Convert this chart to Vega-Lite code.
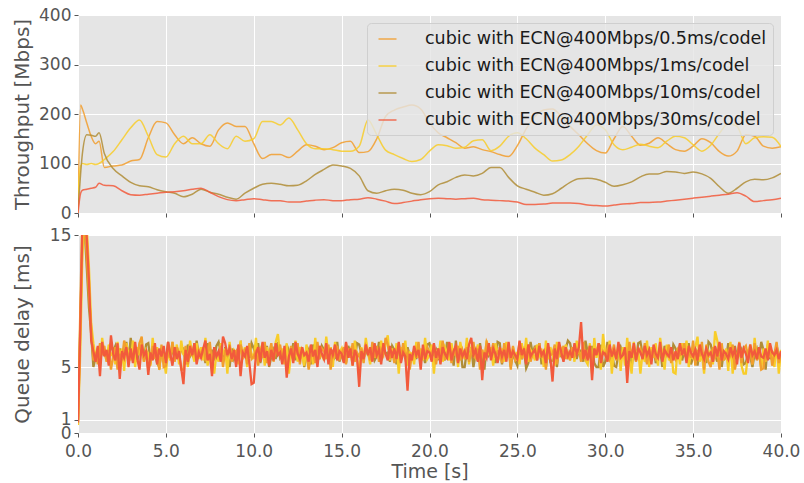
{
"$schema": "https://vega.github.io/schema/vega-lite/v6.json",
"background": "white",
"padding": {"left": 12, "top": 6, "right": 4, "bottom": 1},
"bounds": "flush",
"spacing": 22,
"datasets": {
"thr": [
{"t":0,"a":0,"b":40,"c":5,"d":0},
{"t":0.15,"a":218,"b":95,"c":80,"d":40},
{"t":0.25,"a":210,"b":100,"c":120,"d":46},
{"t":0.5,"a":182,"b":98,"c":158,"d":48},
{"t":0.75,"a":155,"b":100,"c":157,"d":50},
{"t":1,"a":140,"b":98,"c":155,"d":52},
{"t":1.2,"a":145,"b":100,"c":162,"d":60},
{"t":1.5,"a":92,"b":108,"c":120,"d":56},
{"t":2,"a":95,"b":124,"c":90,"d":55},
{"t":2.5,"a":97,"b":148,"c":75,"d":45},
{"t":3,"a":105,"b":172,"c":62,"d":37},
{"t":3.5,"a":108,"b":188,"c":55,"d":36},
{"t":4,"a":152,"b":155,"c":53,"d":38},
{"t":4.5,"a":185,"b":118,"c":47,"d":40},
{"t":5,"a":182,"b":113,"c":43,"d":42},
{"t":5.5,"a":158,"b":140,"c":40,"d":43},
{"t":6,"a":140,"b":155,"c":33,"d":45},
{"t":6.5,"a":152,"b":140,"c":38,"d":48},
{"t":7,"a":140,"b":140,"c":48,"d":50},
{"t":7.5,"a":135,"b":158,"c":42,"d":42},
{"t":8,"a":168,"b":140,"c":38,"d":33},
{"t":8.5,"a":182,"b":130,"c":32,"d":27},
{"t":9,"a":175,"b":155,"c":28,"d":25},
{"t":9.5,"a":175,"b":145,"c":40,"d":27},
{"t":10,"a":140,"b":150,"c":50,"d":29},
{"t":10.5,"a":110,"b":185,"c":58,"d":27},
{"t":11,"a":118,"b":185,"c":60,"d":25},
{"t":11.5,"a":118,"b":178,"c":58,"d":25},
{"t":12,"a":112,"b":192,"c":55,"d":22},
{"t":12.5,"a":125,"b":168,"c":56,"d":22},
{"t":13,"a":138,"b":140,"c":65,"d":24},
{"t":13.5,"a":135,"b":130,"c":78,"d":26},
{"t":14,"a":128,"b":130,"c":88,"d":27},
{"t":14.5,"a":132,"b":128,"c":97,"d":25},
{"t":15,"a":142,"b":125,"c":95,"d":25},
{"t":15.5,"a":145,"b":125,"c":90,"d":27},
{"t":16,"a":122,"b":135,"c":75,"d":28},
{"t":16.5,"a":124,"b":188,"c":45,"d":31},
{"t":17,"a":150,"b":158,"c":40,"d":28},
{"t":17.5,"a":195,"b":127,"c":45,"d":24},
{"t":18,"a":208,"b":118,"c":48,"d":19},
{"t":18.5,"a":214,"b":110,"c":46,"d":21},
{"t":19,"a":218,"b":104,"c":40,"d":24},
{"t":19.5,"a":210,"b":108,"c":37,"d":27},
{"t":20,"a":182,"b":125,"c":43,"d":29},
{"t":20.5,"a":162,"b":138,"c":57,"d":30},
{"t":21,"a":152,"b":136,"c":63,"d":29},
{"t":21.5,"a":142,"b":131,"c":72,"d":28},
{"t":22,"a":131,"b":133,"c":77,"d":29},
{"t":22.5,"a":134,"b":146,"c":75,"d":30},
{"t":23,"a":128,"b":148,"c":80,"d":27},
{"t":23.5,"a":124,"b":126,"c":92,"d":26},
{"t":24,"a":118,"b":135,"c":92,"d":25},
{"t":24.5,"a":114,"b":155,"c":72,"d":24},
{"t":25,"a":136,"b":162,"c":55,"d":22},
{"t":25.5,"a":170,"b":150,"c":48,"d":17},
{"t":26,"a":195,"b":131,"c":42,"d":17},
{"t":26.5,"a":208,"b":118,"c":36,"d":18},
{"t":27,"a":210,"b":105,"c":39,"d":20},
{"t":27.5,"a":195,"b":107,"c":50,"d":20},
{"t":28,"a":175,"b":118,"c":62,"d":20},
{"t":28.5,"a":158,"b":135,"c":69,"d":19},
{"t":29,"a":140,"b":158,"c":70,"d":16},
{"t":29.5,"a":126,"b":178,"c":68,"d":15},
{"t":30,"a":121,"b":168,"c":62,"d":14},
{"t":30.5,"a":150,"b":138,"c":54,"d":16},
{"t":31,"a":175,"b":128,"c":57,"d":18},
{"t":31.5,"a":155,"b":133,"c":63,"d":19},
{"t":32,"a":137,"b":139,"c":73,"d":21},
{"t":32.5,"a":141,"b":135,"c":79,"d":21},
{"t":33,"a":152,"b":132,"c":79,"d":22},
{"t":33.5,"a":140,"b":145,"c":84,"d":24},
{"t":34,"a":128,"b":155,"c":83,"d":26},
{"t":34.5,"a":125,"b":152,"c":80,"d":28},
{"t":35,"a":135,"b":138,"c":83,"d":30},
{"t":35.5,"a":150,"b":125,"c":79,"d":32},
{"t":36,"a":142,"b":137,"c":70,"d":34},
{"t":36.5,"a":124,"b":161,"c":53,"d":36},
{"t":37,"a":115,"b":181,"c":40,"d":38},
{"t":37.5,"a":125,"b":175,"c":50,"d":41},
{"t":38,"a":158,"b":140,"c":63,"d":34},
{"t":38.5,"a":155,"b":152,"c":68,"d":23},
{"t":39,"a":135,"b":154,"c":67,"d":25},
{"t":39.5,"a":131,"b":153,"c":71,"d":27},
{"t":40,"a":134,"b":134,"c":80,"d":30}
],
"qd": [
{"t":0,"a":1.0,"b":0.6,"c":0.9,"d":0.8},
{"t":0.125,"a":9.0,"b":6.0,"c":8.0,"d":7.5},
{"t":0.25,"a":16.5,"b":13.5,"c":14.5,"d":15.8},
{"t":0.375,"a":16,"b":16.5,"c":15.5,"d":17},
{"t":0.5,"a":13.5,"b":15.5,"c":12.5,"d":14.8},
{"t":0.625,"a":10.5,"b":12.5,"c":9.5,"d":11.5},
{"t":0.75,"a":8.0,"b":8.3,"c":7.5,"d":7.0},
{"t":0.875,"a":5.5,"b":6.8,"c":5.0,"d":6.2},
{"t":1,"a":6.1,"b":5.7,"c":5.7,"d":5.4},
{"t":1.125,"a":5.2,"b":6.5,"c":6.4,"d":6.6},
{"t":1.25,"a":6.8,"b":5.1,"c":5.2,"d":4.3},
{"t":1.375,"a":5.9,"b":7.2,"c":6.5,"d":6.9},
{"t":1.5,"a":6.6,"b":6.0,"c":6.0,"d":5.8},
{"t":1.625,"a":5.4,"b":5.5,"c":6.1,"d":6.3},
{"t":1.75,"a":6.3,"b":6.7,"c":5.4,"d":5.1},
{"t":1.875,"a":4.8,"b":5.9,"c":6.8,"d":7.4},
{"t":2,"a":5.8,"b":6.1,"c":6.2,"d":6.0},
{"t":2.125,"a":6.5,"b":5.2,"c":6.6,"d":5.5},
{"t":2.25,"a":4.8,"b":6.9,"c":5.3,"d":6.8},
{"t":2.375,"a":6.0,"b":5.7,"c":6.4,"d":4.1},
{"t":2.5,"a":5.5,"b":6.4,"c":5.8,"d":6.2},
{"t":2.625,"a":7.0,"b":4.7,"c":5.7,"d":5.7},
{"t":2.75,"a":6.4,"b":6.8,"c":6.9,"d":6.5},
{"t":2.875,"a":5.7,"b":6.0,"c":5.5,"d":5.0},
{"t":3,"a":6.3,"b":5.5,"c":7.2,"d":6.4},
{"t":3.125,"a":5.6,"b":7.0,"c":5.9,"d":5.3},
{"t":3.25,"a":6.4,"b":5.0,"c":6.3,"d":6.9},
{"t":3.375,"a":5.9,"b":6.5,"c":5.4,"d":5.6},
{"t":3.5,"a":6.8,"b":5.9,"c":6.6,"d":4.8},
{"t":3.625,"a":7.3,"b":6.9,"c":6.2,"d":6.7},
{"t":3.75,"a":5.4,"b":5.4,"c":5.6,"d":5.9},
{"t":3.875,"a":6.2,"b":6.3,"c":6.7,"d":6.2},
{"t":4,"a":4.8,"b":6.0,"c":6.8,"d":4.4},
{"t":4.125,"a":5.3,"b":5.1,"c":5.5,"d":6.1},
{"t":4.25,"a":6.6,"b":7.2,"c":6.4,"d":5.5},
{"t":4.375,"a":5.8,"b":5.6,"c":6.0,"d":6.8},
{"t":4.5,"a":6.1,"b":6.5,"c":5.3,"d":5.2},
{"t":4.625,"a":4.8,"b":4.8,"c":5.0,"d":6.4},
{"t":4.75,"a":6.7,"b":6.4,"c":6.1,"d":5.8},
{"t":4.875,"a":5.0,"b":5.7,"c":5.7,"d":6.6},
{"t":5,"a":5.1,"b":4.5,"c":5.4,"d":5.3},
{"t":5.125,"a":6.2,"b":6.3,"c":6.9,"d":6.9},
{"t":5.25,"a":5.7,"b":5.5,"c":5.7,"d":6.0},
{"t":5.375,"a":6.9,"b":6.9,"c":6.2,"d":5.1},
{"t":5.5,"a":5.4,"b":5.9,"c":5.9,"d":6.5},
{"t":5.625,"a":6.5,"b":6.7,"c":6.5,"d":5.6},
{"t":5.75,"a":6.0,"b":5.2,"c":5.8,"d":6.2},
{"t":5.875,"a":4.8,"b":7.0,"c":6.3,"d":4.9},
{"t":6,"a":4.8,"b":5.9,"c":6.4,"d":3.7},
{"t":6.125,"a":6.6,"b":6.4,"c":5.2,"d":6.3},
{"t":6.25,"a":5.2,"b":5.0,"c":6.7,"d":5.4},
{"t":6.375,"a":6.1,"b":7.0,"c":5.8,"d":6.6},
{"t":6.5,"a":5.9,"b":6.0,"c":6.1,"d":5.9},
{"t":6.625,"a":6.8,"b":5.4,"c":5.6,"d":6.8},
{"t":6.75,"a":5.5,"b":6.8,"c":7.0,"d":5.2},
{"t":6.875,"a":6.3,"b":5.6,"c":5.9,"d":6.1},
{"t":7,"a":5.9,"b":6.5,"c":5.9,"d":5.7},
{"t":7.125,"a":6.5,"b":5.5,"c":6.2,"d":6.4},
{"t":7.25,"a":5.6,"b":7.2,"c":5.3,"d":7.0},
{"t":7.375,"a":6.0,"b":5.1,"c":6.8,"d":5.5},
{"t":7.5,"a":6.9,"b":6.1,"c":5.7,"d":6.0},
{"t":7.625,"a":5.3,"b":5.7,"c":6.3,"d":4.3},
{"t":7.75,"a":6.4,"b":4.5,"c":5.5,"d":6.5},
{"t":7.875,"a":5.8,"b":6.0,"c":6.6,"d":5.8},
{"t":8,"a":6.0,"b":5.4,"c":6.9,"d":6.2},
{"t":8.125,"a":6.6,"b":6.8,"c":6.1,"d":5.4},
{"t":8.25,"a":5.0,"b":5.9,"c":5.4,"d":7.3},
{"t":8.375,"a":6.3,"b":6.4,"c":6.5,"d":6.8},
{"t":8.5,"a":5.8,"b":4.5,"c":5.8,"d":5.9},
{"t":8.625,"a":6.7,"b":6.9,"c":5.0,"d":6.4},
{"t":8.75,"a":5.4,"b":5.5,"c":6.4,"d":5.6},
{"t":8.875,"a":6.1,"b":6.3,"c":5.6,"d":6.3},
{"t":9,"a":6.2,"b":6.1,"c":6.0,"d":5.0},
{"t":9.125,"a":5.5,"b":5.2,"c":6.5,"d":6.7},
{"t":9.25,"a":6.7,"b":7.0,"c":6.8,"d":4.3},
{"t":9.375,"a":5.9,"b":5.6,"c":5.6,"d":6.1},
{"t":9.5,"a":6.4,"b":6.5,"c":6.3,"d":5.8},
{"t":9.625,"a":5.2,"b":5.0,"c":6.2,"d":6.6},
{"t":9.75,"a":6.8,"b":6.7,"c":5.7,"d":5.3},
{"t":9.875,"a":5.6,"b":6.0,"c":6.8,"d":3.7},
{"t":10,"a":5.8,"b":5.6,"c":6.4,"d":3.8},
{"t":10.125,"a":6.3,"b":7.2,"c":5.9,"d":6.0},
{"t":10.25,"a":5.1,"b":5.4,"c":6.8,"d":6.5},
{"t":10.375,"a":6.4,"b":6.3,"c":5.3,"d":5.4},
{"t":10.5,"a":5.7,"b":6.8,"c":6.1,"d":6.9},
{"t":10.625,"a":6.9,"b":5.1,"c":5.5,"d":5.7},
{"t":10.75,"a":5.3,"b":6.5,"c":6.6,"d":6.2},
{"t":10.875,"a":6.0,"b":5.7,"c":5.0,"d":5.1},
{"t":11,"a":6.8,"b":6.3,"c":5.8,"d":6.3},
{"t":11.125,"a":5.4,"b":5.5,"c":6.3,"d":5.5},
{"t":11.25,"a":6.5,"b":6.9,"c":5.6,"d":6.8},
{"t":11.375,"a":5.9,"b":7.5,"c":6.9,"d":5.9},
{"t":11.5,"a":6.7,"b":5.9,"c":5.7,"d":6.1},
{"t":11.625,"a":5.6,"b":6.4,"c":6.0,"d":5.2},
{"t":11.75,"a":6.2,"b":5.2,"c":5.4,"d":6.6},
{"t":11.875,"a":4.8,"b":6.8,"c":6.7,"d":4.2},
{"t":12,"a":5.7,"b":4.5,"c":6.2,"d":5.8},
{"t":12.125,"a":6.6,"b":6.1,"c":5.7,"d":6.4},
{"t":12.25,"a":5.5,"b":5.6,"c":6.8,"d":5.3},
{"t":12.375,"a":6.0,"b":7.0,"c":5.5,"d":6.9},
{"t":12.5,"a":6.8,"b":5.4,"c":6.4,"d":6.0},
{"t":12.625,"a":5.2,"b":6.5,"c":5.9,"d":5.6},
{"t":12.75,"a":6.3,"b":6.0,"c":6.5,"d":6.5},
{"t":12.875,"a":5.9,"b":5.1,"c":5.0,"d":5.9},
{"t":13,"a":6.0,"b":6.7,"c":5.9,"d":6.1},
{"t":13.125,"a":4.8,"b":5.7,"c":6.3,"d":5.4},
{"t":13.25,"a":5.8,"b":6.4,"c":5.2,"d":6.7},
{"t":13.375,"a":6.1,"b":5.2,"c":6.7,"d":5.8},
{"t":13.5,"a":5.3,"b":7.2,"c":6.0,"d":6.3},
{"t":13.625,"a":6.9,"b":5.6,"c":6.1,"d":5.0},
{"t":13.75,"a":5.6,"b":6.3,"c":5.6,"d":6.6},
{"t":13.875,"a":6.4,"b":5.9,"c":6.6,"d":6.0},
{"t":14,"a":6.2,"b":5.5,"c":6.3,"d":5.6},
{"t":14.125,"a":5.6,"b":7.3,"c":6.0,"d":6.8},
{"t":14.25,"a":6.7,"b":5.9,"c":5.8,"d":5.2},
{"t":14.375,"a":4.8,"b":6.5,"c":6.5,"d":6.4},
{"t":14.5,"a":6.3,"b":5.0,"c":5.5,"d":5.9},
{"t":14.625,"a":5.9,"b":6.9,"c":5.7,"d":6.7},
{"t":14.75,"a":6.6,"b":5.7,"c":6.9,"d":5.5},
{"t":14.875,"a":5.5,"b":6.1,"c":5.4,"d":6.2},
{"t":15,"a":6.0,"b":6.4,"c":5.9,"d":6.0},
{"t":15.125,"a":6.5,"b":5.4,"c":6.4,"d":5.3},
{"t":15.25,"a":5.2,"b":6.8,"c":5.3,"d":6.9},
{"t":15.375,"a":6.4,"b":5.9,"c":6.6,"d":5.7},
{"t":15.5,"a":5.7,"b":6.3,"c":6.1,"d":6.4},
{"t":15.625,"a":6.8,"b":5.1,"c":6.2,"d":5.1},
{"t":15.75,"a":5.4,"b":7.0,"c":5.6,"d":6.3},
{"t":15.875,"a":6.1,"b":5.6,"c":6.8,"d":5.8},
{"t":16,"a":5.8,"b":4.5,"c":6.7,"d":3.5},
{"t":16.125,"a":6.4,"b":6.5,"c":6.0,"d":6.2},
{"t":16.25,"a":5.3,"b":5.5,"c":5.6,"d":5.6},
{"t":16.375,"a":6.6,"b":7.2,"c":6.4,"d":6.7},
{"t":16.5,"a":6.2,"b":6.1,"c":5.9,"d":5.9},
{"t":16.625,"a":5.5,"b":5.2,"c":5.8,"d":6.5},
{"t":16.75,"a":6.9,"b":6.7,"c":6.3,"d":5.4},
{"t":16.875,"a":5.7,"b":5.7,"c":5.5,"d":6.8},
{"t":17,"a":6.6,"b":6.3,"c":5.8,"d":5.9},
{"t":17.125,"a":5.4,"b":5.6,"c":6.9,"d":6.3},
{"t":17.25,"a":6.3,"b":7.0,"c":5.5,"d":5.2},
{"t":17.375,"a":5.9,"b":6.0,"c":6.2,"d":6.8},
{"t":17.5,"a":7.2,"b":6.7,"c":6.0,"d":6.0},
{"t":17.625,"a":6.7,"b":7.4,"c":6.1,"d":5.5},
{"t":17.75,"a":5.6,"b":5.5,"c":5.4,"d":6.6},
{"t":17.875,"a":6.2,"b":6.4,"c":6.6,"d":5.7},
{"t":18,"a":5.3,"b":5.4,"c":6.3,"d":6.4},
{"t":18.125,"a":6.0,"b":6.8,"c":5.2,"d":5.6},
{"t":18.25,"a":6.4,"b":4.5,"c":6.8,"d":6.9},
{"t":18.375,"a":5.5,"b":6.5,"c":5.7,"d":5.3},
{"t":18.5,"a":6.8,"b":5.9,"c":6.4,"d":6.1},
{"t":18.625,"a":5.7,"b":7.0,"c":5.6,"d":5.8},
{"t":18.75,"a":6.1,"b":5.1,"c":6.5,"d":3.2},
{"t":18.875,"a":4.8,"b":6.1,"c":5.9,"d":6.0},
{"t":19,"a":5.9,"b":6.0,"c":5.9,"d":5.5},
{"t":19.125,"a":6.2,"b":5.2,"c":6.2,"d":6.6},
{"t":19.25,"a":5.7,"b":6.9,"c":5.6,"d":5.9},
{"t":19.375,"a":6.9,"b":5.7,"c":6.5,"d":6.3},
{"t":19.5,"a":5.4,"b":6.4,"c":5.8,"d":4.8},
{"t":19.625,"a":6.3,"b":5.5,"c":6.0,"d":6.7},
{"t":19.75,"a":5.8,"b":7.2,"c":5.3,"d":5.6},
{"t":19.875,"a":6.5,"b":5.6,"c":6.7,"d":6.2},
{"t":20,"a":6.1,"b":5.9,"c":6.8,"d":6.1},
{"t":20.125,"a":5.8,"b":6.7,"c":6.1,"d":5.4},
{"t":20.25,"a":6.7,"b":4.5,"c":5.9,"d":6.8},
{"t":20.375,"a":5.2,"b":6.3,"c":6.3,"d":5.7},
{"t":20.5,"a":6.4,"b":5.6,"c":5.6,"d":6.4},
{"t":20.625,"a":5.9,"b":7.0,"c":5.7,"d":5.2},
{"t":20.75,"a":7.0,"b":5.4,"c":6.4,"d":6.5},
{"t":20.875,"a":5.6,"b":6.5,"c":5.5,"d":6.0},
{"t":21,"a":5.7,"b":6.1,"c":6.9,"d":5.7},
{"t":21.125,"a":6.8,"b":5.5,"c":5.8,"d":6.9},
{"t":21.25,"a":5.3,"b":6.8,"c":6.3,"d":5.5},
{"t":21.375,"a":6.2,"b":5.9,"c":5.1,"d":6.2},
{"t":21.5,"a":5.9,"b":6.4,"c":7.0,"d":6.6},
{"t":21.625,"a":6.6,"b":5.0,"c":5.4,"d":5.3},
{"t":21.75,"a":5.5,"b":6.9,"c":6.6,"d":6.4},
{"t":21.875,"a":6.3,"b":6.0,"c":5.0,"d":5.8},
{"t":22,"a":5.8,"b":5.6,"c":5.0,"d":6.2},
{"t":22.125,"a":6.5,"b":7.2,"c":6.2,"d":5.6},
{"t":22.25,"a":5.4,"b":5.2,"c":5.7,"d":6.7},
{"t":22.375,"a":6.1,"b":6.4,"c":6.5,"d":7.2},
{"t":22.5,"a":6.9,"b":6.0,"c":5.0,"d":5.9},
{"t":22.625,"a":5.6,"b":5.7,"c":6.0,"d":6.3},
{"t":22.75,"a":6.4,"b":6.7,"c":5.5,"d":5.4},
{"t":22.875,"a":4.8,"b":5.4,"c":6.8,"d":6.6},
{"t":23,"a":6.3,"b":6.3,"c":5.6,"d":4.0},
{"t":23.125,"a":5.6,"b":5.5,"c":4.8,"d":6.1},
{"t":23.25,"a":6.9,"b":7.0,"c":6.7,"d":5.7},
{"t":23.375,"a":6.5,"b":5.9,"c":5.9,"d":6.8},
{"t":23.5,"a":6.0,"b":6.5,"c":6.2,"d":5.5},
{"t":23.625,"a":6.8,"b":5.1,"c":6.4,"d":6.4},
{"t":23.75,"a":5.7,"b":6.8,"c":5.3,"d":6.0},
{"t":23.875,"a":6.2,"b":6.1,"c":6.9,"d":5.3},
{"t":24,"a":6.1,"b":5.7,"c":6.8,"d":6.5},
{"t":24.125,"a":5.3,"b":6.4,"c":5.2,"d":5.8},
{"t":24.25,"a":6.8,"b":5.4,"c":6.4,"d":6.3},
{"t":24.375,"a":5.9,"b":6.9,"c":5.8,"d":5.4},
{"t":24.5,"a":6.4,"b":6.0,"c":6.6,"d":6.9},
{"t":24.625,"a":4.8,"b":5.5,"c":5.0,"d":5.7},
{"t":24.75,"a":6.6,"b":6.5,"c":6.1,"d":6.2},
{"t":24.875,"a":5.5,"b":5.9,"c":5.5,"d":5.9},
{"t":25,"a":5.7,"b":6.1,"c":5.1,"d":5.6},
{"t":25.125,"a":6.9,"b":5.2,"c":6.5,"d":7.0},
{"t":25.25,"a":5.6,"b":6.8,"c":5.6,"d":5.9},
{"t":25.375,"a":6.3,"b":5.7,"c":6.2,"d":6.4},
{"t":25.5,"a":5.8,"b":7.2,"c":4.9,"d":5.2},
{"t":25.625,"a":6.7,"b":5.4,"c":5.3,"d":6.7},
{"t":25.75,"a":5.4,"b":6.3,"c":6.9,"d":5.8},
{"t":25.875,"a":6.0,"b":6.0,"c":6.0,"d":6.1},
{"t":26,"a":6.4,"b":5.5,"c":6.6,"d":6.3},
{"t":26.125,"a":5.5,"b":6.7,"c":5.9,"d":5.5},
{"t":26.25,"a":6.8,"b":5.9,"c":6.8,"d":6.6},
{"t":26.375,"a":5.7,"b":6.4,"c":5.2,"d":5.9},
{"t":26.5,"a":6.2,"b":5.0,"c":6.1,"d":6.2},
{"t":26.625,"a":4.8,"b":7.0,"c":5.0,"d":5.3},
{"t":26.75,"a":6.5,"b":5.6,"c":6.3,"d":6.8},
{"t":26.875,"a":5.9,"b":6.5,"c":5.4,"d":5.7},
{"t":27,"a":6.0,"b":6.0,"c":5.5,"d":3.9},
{"t":27.125,"a":6.7,"b":5.1,"c":6.0,"d":6.4},
{"t":27.25,"a":5.2,"b":6.9,"c":5.0,"d":5.6},
{"t":27.375,"a":6.3,"b":5.9,"c":6.5,"d":6.9},
{"t":27.5,"a":5.9,"b":6.3,"c":5.8,"d":6.1},
{"t":27.625,"a":6.6,"b":5.5,"c":5.7,"d":5.4},
{"t":27.75,"a":5.6,"b":6.7,"c":6.4,"d":6.5},
{"t":27.875,"a":6.1,"b":5.7,"c":7.0,"d":5.8},
{"t":28,"a":5.5,"b":5.6,"c":6.8,"d":6.2},
{"t":28.125,"a":6.5,"b":6.5,"c":5.9,"d":5.7},
{"t":28.25,"a":5.8,"b":5.4,"c":6.4,"d":6.8},
{"t":28.375,"a":6.0,"b":7.0,"c":5.6,"d":6.0},
{"t":28.5,"a":6.3,"b":6.1,"c":6.3,"d":6.5},
{"t":28.625,"a":5.4,"b":5.9,"c":6.2,"d":8.4},
{"t":28.75,"a":6.9,"b":6.4,"c":5.4,"d":5.6},
{"t":28.875,"a":5.7,"b":5.5,"c":7.0,"d":6.3},
{"t":29,"a":6.1,"b":5.2,"c":6.1,"d":5.5},
{"t":29.125,"a":6.6,"b":6.8,"c":5.8,"d":6.6},
{"t":29.25,"a":5.3,"b":4.5,"c":6.6,"d":4.0},
{"t":29.375,"a":6.4,"b":7.2,"c":5.3,"d":6.4},
{"t":29.5,"a":5.9,"b":5.7,"c":5.0,"d":5.9},
{"t":29.625,"a":6.8,"b":6.4,"c":5.0,"d":6.8},
{"t":29.75,"a":5.6,"b":4.8,"c":6.7,"d":5.3},
{"t":29.875,"a":6.2,"b":7.5,"c":5.0,"d":6.1},
{"t":30,"a":5.9,"b":6.0,"c":5.4,"d":6.0},
{"t":30.125,"a":6.4,"b":5.4,"c":6.9,"d":5.4},
{"t":30.25,"a":5.6,"b":7.0,"c":5.7,"d":6.7},
{"t":30.375,"a":6.0,"b":4.5,"c":6.2,"d":5.8},
{"t":30.5,"a":6.7,"b":6.3,"c":5.1,"d":6.3},
{"t":30.625,"a":5.5,"b":5.6,"c":5.0,"d":5.6},
{"t":30.75,"a":6.3,"b":6.7,"c":6.0,"d":6.9},
{"t":30.875,"a":5.8,"b":4.7,"c":6.5,"d":5.7},
{"t":31,"a":6.0,"b":6.5,"c":5.9,"d":5.9},
{"t":31.125,"a":6.2,"b":5.1,"c":6.1,"d":6.5},
{"t":31.25,"a":5.5,"b":7.2,"c":5.2,"d":3.8},
{"t":31.375,"a":6.9,"b":5.5,"c":6.6,"d":6.2},
{"t":31.5,"a":5.8,"b":4.5,"c":5.0,"d":5.7},
{"t":31.625,"a":6.6,"b":6.9,"c":6.3,"d":6.8},
{"t":31.75,"a":5.4,"b":5.9,"c":5.5,"d":5.5},
{"t":31.875,"a":6.1,"b":6.3,"c":6.8,"d":6.4},
{"t":32,"a":6.4,"b":4.5,"c":6.9,"d":6.1},
{"t":32.125,"a":5.7,"b":6.1,"c":6.0,"d":5.6},
{"t":32.25,"a":6.8,"b":5.4,"c":5.6,"d":6.6},
{"t":32.375,"a":5.2,"b":7.0,"c":6.5,"d":5.9},
{"t":32.5,"a":6.3,"b":5.0,"c":5.9,"d":6.3},
{"t":32.625,"a":5.9,"b":6.5,"c":5.8,"d":5.2},
{"t":32.75,"a":6.5,"b":5.7,"c":6.4,"d":6.7},
{"t":32.875,"a":5.6,"b":6.8,"c":5.3,"d":6.0},
{"t":33,"a":5.8,"b":5.1,"c":5.8,"d":5.7},
{"t":33.125,"a":6.5,"b":7.2,"c":6.3,"d":6.9},
{"t":33.25,"a":5.6,"b":6.0,"c":5.0,"d":5.4},
{"t":33.375,"a":6.2,"b":4.8,"c":6.6,"d":6.3},
{"t":33.5,"a":5.9,"b":6.7,"c":6.0,"d":6.0},
{"t":33.625,"a":6.7,"b":5.5,"c":6.1,"d":5.8},
{"t":33.75,"a":5.3,"b":6.3,"c":5.4,"d":6.5},
{"t":33.875,"a":6.0,"b":4.6,"c":6.7,"d":5.5},
{"t":34,"a":5.6,"b":4.5,"c":6.4,"d":6.2},
{"t":34.125,"a":6.3,"b":6.4,"c":5.9,"d":5.6},
{"t":34.25,"a":5.9,"b":5.2,"c":6.7,"d":6.8},
{"t":34.375,"a":6.1,"b":6.8,"c":5.5,"d":5.9},
{"t":34.5,"a":6.8,"b":5.9,"c":6.2,"d":6.4},
{"t":34.625,"a":5.5,"b":7.0,"c":5.6,"d":5.3},
{"t":34.75,"a":6.4,"b":5.0,"c":6.8,"d":6.6},
{"t":34.875,"a":5.7,"b":6.1,"c":5.2,"d":6.1},
{"t":35,"a":7.0,"b":5.6,"c":5.7,"d":5.8},
{"t":35.125,"a":5.1,"b":6.5,"c":6.4,"d":6.3},
{"t":35.25,"a":6.3,"b":7.3,"c":5.1,"d":5.5},
{"t":35.375,"a":5.8,"b":5.4,"c":6.3,"d":6.7},
{"t":35.5,"a":6.9,"b":6.0,"c":5.8,"d":6.0},
{"t":35.625,"a":4.8,"b":4.5,"c":6.0,"d":5.6},
{"t":35.75,"a":6.6,"b":6.7,"c":5.3,"d":6.4},
{"t":35.875,"a":5.4,"b":5.7,"c":6.9,"d":5.9},
{"t":36,"a":5.0,"b":6.3,"c":6.7,"d":6.1},
{"t":36.125,"a":6.5,"b":5.2,"c":5.9,"d":5.4},
{"t":36.25,"a":5.7,"b":7.7,"c":6.5,"d":6.6},
{"t":36.375,"a":6.2,"b":7.0,"c":5.4,"d":5.8},
{"t":36.5,"a":4.8,"b":5.9,"c":6.8,"d":6.9},
{"t":36.625,"a":6.8,"b":6.5,"c":5.0,"d":5.5},
{"t":36.75,"a":5.5,"b":5.5,"c":6.2,"d":6.2},
{"t":36.875,"a":6.0,"b":6.4,"c":5.6,"d":6.0},
{"t":37,"a":6.2,"b":4.7,"c":6.8,"d":5.6},
{"t":37.125,"a":5.9,"b":6.9,"c":6.0,"d":6.5},
{"t":37.25,"a":6.7,"b":4.5,"c":5.5,"d":5.9},
{"t":37.375,"a":4.8,"b":6.1,"c":6.6,"d":6.3},
{"t":37.5,"a":5.6,"b":5.7,"c":5.7,"d":5.2},
{"t":37.625,"a":6.9,"b":6.8,"c":5.9,"d":6.8},
{"t":37.75,"a":5.3,"b":5.1,"c":6.3,"d":5.7},
{"t":37.875,"a":6.4,"b":4.5,"c":5.2,"d":6.4},
{"t":38,"a":6.6,"b":4.5,"c":5.3,"d":6.0},
{"t":38.125,"a":5.8,"b":6.0,"c":6.1,"d":5.3},
{"t":38.25,"a":6.4,"b":6.7,"c":5.8,"d":6.7},
{"t":38.375,"a":5.2,"b":5.2,"c":5.0,"d":5.9},
{"t":38.5,"a":6.8,"b":7.2,"c":6.0,"d":6.2},
{"t":38.625,"a":5.5,"b":5.6,"c":6.4,"d":5.6},
{"t":38.75,"a":6.1,"b":6.3,"c":5.6,"d":6.5},
{"t":38.875,"a":4.8,"b":4.8,"c":6.9,"d":5.8},
{"t":39,"a":4.9,"b":6.4,"c":6.3,"d":5.7},
{"t":39.125,"a":6.2,"b":5.4,"c":4.8,"d":6.4},
{"t":39.25,"a":5.6,"b":7.0,"c":6.7,"d":5.5},
{"t":39.375,"a":6.5,"b":5.9,"c":5.6,"d":6.8},
{"t":39.5,"a":5.1,"b":6.1,"c":6.2,"d":6.1},
{"t":39.625,"a":6.0,"b":5.0,"c":5.5,"d":5.9},
{"t":39.75,"a":6.9,"b":6.8,"c":6.6,"d":6.3},
{"t":39.875,"a":5.3,"b":4.5,"c":5.9,"d":5.6},
{"t":40,"a":5.9,"b":6.3,"c":5.8,"d":6.2}
]
},
"resolve": {"legend": {"color": "independent"}},
"vconcat": [
{
"width": 703,
"height": 198,
"data": {"name": "thr"},
"transform": [{"fold": ["a","b","c","d"], "as": ["s","v"]}],
"mark": {"type": "line", "strokeWidth": 1.5, "opacity": 0.85, "clip": true, "interpolate": "monotone"},
"encoding": {
"x": {"field": "t", "type": "quantitative", "scale": {"domain": [0, 40], "nice": false},
"axis": {"values": [0,5,10,15,20,25,30,35,40], "labels": false, "title": null}},
"y": {"field": "v", "type": "quantitative", "scale": {"domain": [0, 400], "nice": false},
"axis": {"values": [0,100,200,300,400], "title": "Throughput [Mbps]", "minExtent": 40, "maxExtent": 40, "titlePadding": 6, "labelPadding": 3}},
"color": {"field": "s", "type": "nominal",
"scale": {"domain": ["a","b","c","d"], "range": ["#F29E2D","#F8CD29","#B08D36","#F25A3C"]},
"legend": {"title": null, "orient": "top-right", "offset": 8, "padding": 6,
"symbolType": "M-0.5,0L1.5,0", "symbolSize": 324, "symbolStrokeWidth": 1.5, "symbolOpacity": 0.85, "symbolFillColor": "transparent",
"labelFontSize": 17.5, "labelColor": "#1a1a1a", "labelOffset": 32, "rowPadding": 8, "labelLimit": 500,
"fillColor": "rgba(229,229,229,0.8)", "strokeColor": "#cfcfcf", "cornerRadius": 4,
"labelExpr": "{'a':'cubic with ECN@400Mbps/0.5ms/codel','b':'cubic with ECN@400Mbps/1ms/codel','c':'cubic with ECN@400Mbps/10ms/codel','d':'cubic with ECN@400Mbps/30ms/codel'}[datum.label]"}}
}
},
{
"width": 703,
"height": 198,
"data": {"name": "qd"},
"transform": [{"fold": ["c","b","a","d"], "as": ["s","v"]}],
"mark": {"type": "line", "strokeWidth": 2.3, "opacity": 1, "clip": true},
"encoding": {
"x": {"field": "t", "type": "quantitative", "scale": {"domain": [0, 40], "nice": false},
"axis": {"values": [0,5,10,15,20,25,30,35,40], "format": ".1f", "title": "Time [s]", "titleFontSize": 19, "labelFlush": false, "labelPadding": 6, "titlePadding": 3}},
"y": {"field": "v", "type": "quantitative", "scale": {"domain": [0, 15], "nice": false},
"axis": {"values": [0,1,5,15], "title": "Queue delay [ms]", "labelOverlap": false, "minExtent": 40, "maxExtent": 40, "titlePadding": 6, "labelPadding": 3}},
"color": {"field": "s", "type": "nominal",
"scale": {"domain": ["a","b","c","d"], "range": ["#F29E2D","#F8CD29","#B08D36","#F25A3C"]},
"legend": null}
}
}
],
"config": {
"font": "DejaVu Sans",
"view": {"fill": "#E5E5E5", "stroke": null},
"axis": {"grid": true, "gridColor": "#FFFFFF", "gridWidth": 1, "domain": false, "ticks": true, "tickColor": "#555555", "tickSize": 4, "tickWidth": 1,
"labelColor": "#555555", "labelFontSize": 17, "labelFont": "DejaVu Sans",
"titleColor": "#555555", "titleFontSize": 20, "titleFontWeight": "normal", "titleFont": "DejaVu Sans"},
"legend": {"labelFont": "DejaVu Sans"}
}
}
